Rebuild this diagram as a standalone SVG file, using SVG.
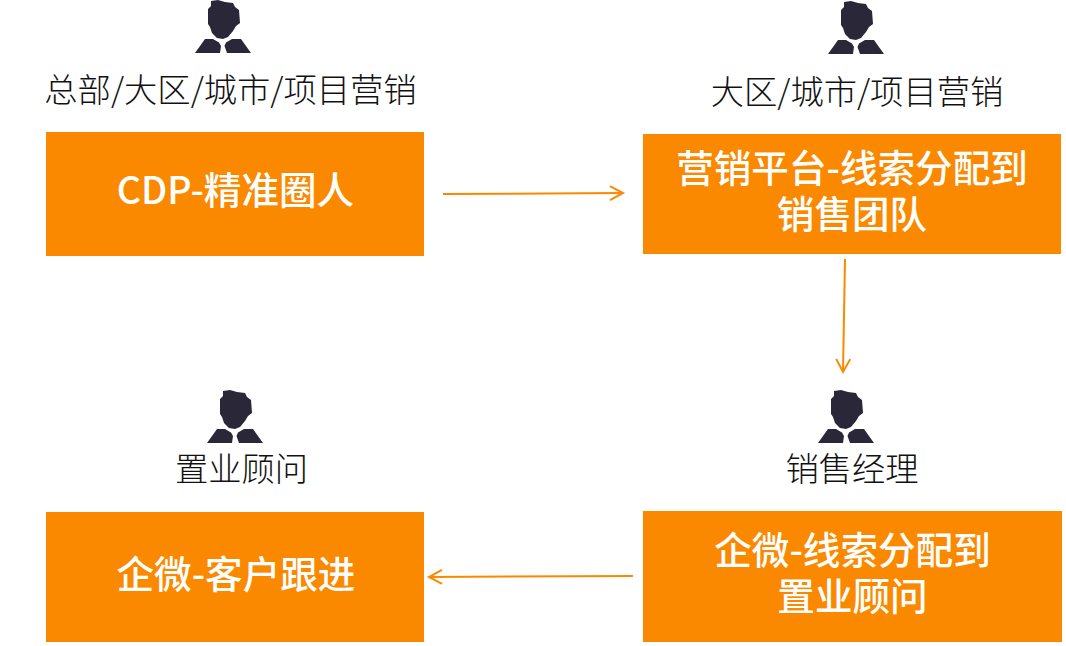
<svg xmlns="http://www.w3.org/2000/svg" xmlns:xlink="http://www.w3.org/1999/xlink" width="1066" height="646" viewBox="0 0 1066 646">
<style>
text{font-family:"Noto Sans CJK SC","Noto Sans",sans-serif;text-anchor:middle}
.l{font-size:33.3px;fill:#111;font-weight:300}
.b{font-size:37.6px;fill:#fff;font-weight:500}
.box{fill:#fb8900}
.c{fill:none;stroke:#fb8900;stroke-width:2}
</style>
<defs>
<marker id="a" markerUnits="userSpaceOnUse" markerWidth="20" markerHeight="20" refX="14" refY="8" orient="auto"><path d="M1 1L14 8L1 15" fill="none" stroke="#fb8900" stroke-width="2"/></marker>
<symbol id="p" overflow="visible"><path fill="#2a2838" d="M16 1L23 0L30 2L38 3L40 7L44 10L45 23L41 26L38 31L33 37L28 39L22 38L17 33L15 27L13 24L13 9L16 6Z"/><path fill="#2a2838" d="M0 53L10 39H18L24 42.500L26 46L25 53ZM32 53L29.500 46L31 42.500L37 39H46L56 53Z"/></symbol>
</defs>
<g id="connectors">
<path class="c" d="M443 194L623 193" marker-end="url(#a)"/>
<path class="c" d="M845 259L843 372" marker-end="url(#a)"/>
<path class="c" d="M633 576L429 577" marker-end="url(#a)"/>
</g>
<g id="n1"><use xlink:href="#p" x="195" y="0"/><text class="l" x="230.500" y="102">总部/大区/城市/项目营销</text><rect class="box" x="46" y="132" width="378" height="124"/><text class="b" x="235.500" y="204">CDP-精准圈人</text></g>
<g id="n2"><use xlink:href="#p" x="828" y="1"/><text class="l" x="857" y="104">大区/城市/项目营销</text><rect class="box" x="643" y="134" width="418" height="120"/><text class="b" x="852" y="182">营销平台-线索分配到</text><text class="b" x="852" y="227.500">销售团队</text></g>
<g id="n3"><use xlink:href="#p" x="818" y="390"/><text class="l" x="852" y="481">销售经理</text><rect class="box" x="643" y="511" width="419" height="131"/><text class="b" x="852.500" y="564">企微-线索分配到</text><text class="b" x="852.500" y="610">置业顾问</text></g>
<g id="n4"><use xlink:href="#p" x="207" y="390"/><text class="l" x="241.500" y="481">置业顾问</text><rect class="box" x="46" y="512" width="378" height="130"/><text class="b" x="236" y="588">企微-客户跟进</text></g>
</svg>
